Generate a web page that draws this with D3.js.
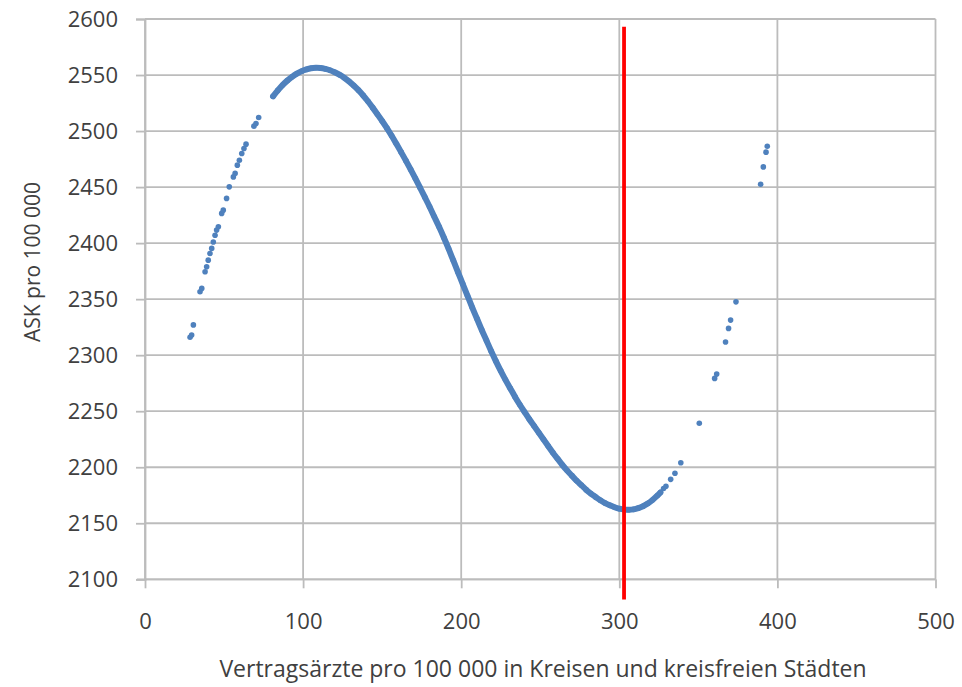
<!DOCTYPE html>
<html>
<head>
<meta charset="utf-8">
<script src="https://cdn.jsdelivr.net/npm/d3@7"></script>
<style>
  html, body { margin: 0; padding: 0; background: #ffffff; }
  svg { display: block; }
  text { font-family: "Open Sans", "Noto Sans", sans-serif; fill: #404040; }
</style>
</head>
<body>
<svg id="chart" width="962" height="687"></svg>
<script>
// ---------------- DATA ----------------
const xTickValues = [0, 100, 200, 300, 400, 500];
const yTickValues = [2100, 2150, 2200, 2250, 2300, 2350, 2400, 2450, 2500, 2550, 2600];

const xTitle = "Vertragsärzte pro 100 000 in Kreisen und kreisfreien Städten";
const yTitle = "ASK pro 100 000";

// scattered points, low end
const leftX = [28.5, 29.5, 30.6, 34.8, 35.9, 38, 39, 40, 41.1, 42.2, 43.2, 44.3, 45.3, 46.4, 48.5, 49.5, 51.6, 53.3, 55.9, 57, 58.4, 59.7, 61.2, 62.6, 63.9, 68.9, 70.2, 71.9];
const leftY = [2316, 2318, 2327, 2356.6, 2359.6, 2374.4, 2378.9, 2384.8, 2390.8, 2395.3, 2401, 2407, 2411.6, 2414.5, 2426.5, 2429.4, 2439.9, 2450.2, 2459.1, 2462.2, 2469.6, 2474, 2480, 2484.5, 2488.3, 2504.4, 2506.8, 2512.1];

// dense band of points
const denseX = [81, 84, 87, 90, 93, 96, 99, 102, 105, 108, 111, 114, 117, 120, 123, 126, 129, 132, 135, 138, 141, 144, 147, 150, 153, 156, 159, 162, 165, 168, 171, 174, 177, 180, 183, 186, 189, 192, 195, 198, 201, 204, 207, 210, 213, 216, 219, 222, 225, 228, 231, 234, 237, 240, 243, 246, 249, 252, 255, 258, 261, 264, 267, 270, 273, 276, 279, 282, 285, 288, 291, 294, 297, 300, 303, 306, 309, 312, 315, 318, 321, 324, 326];
const denseY = [2531, 2536.3, 2541, 2545, 2548.4, 2551.2, 2553.4, 2555, 2556.1, 2556.5, 2556.3, 2555.5, 2554.3, 2552.5, 2550.3, 2547.6, 2544.4, 2540.7, 2536.5, 2531.8, 2526.6, 2520.9, 2515, 2509, 2502.6, 2495.8, 2488.6, 2481.2, 2473.6, 2465.8, 2457.7, 2449.4, 2441, 2432.5, 2423.5, 2414.5, 2405, 2395, 2384.5, 2374, 2363.5, 2353, 2342.5, 2332.5, 2322.5, 2313, 2303.5, 2294.5, 2286, 2278, 2270.5, 2263, 2256, 2249.5, 2243, 2237, 2231, 2225, 2219, 2213, 2207.5, 2202, 2197, 2192.5, 2188, 2184, 2180, 2176.5, 2173.5, 2170.5, 2168, 2166, 2164.3, 2163, 2162.2, 2162, 2162.4, 2163.5, 2165.2, 2167.6, 2170.8, 2174.6, 2177.5];

// scattered points, high end
const rightX = [328, 329.5, 332.5, 335.2, 338.9, 350.6, 360.3, 361.6, 367.2, 369.1, 370.4, 373.8, 389.4, 391.1, 392.8, 393.6];
const rightY = [2181, 2183, 2189.2, 2194.6, 2204, 2239.2, 2279.3, 2283.1, 2311.7, 2323.9, 2331.3, 2347.6, 2452.6, 2468, 2481.2, 2486.5];

// red marker line (minimum)
const markerX = 303;
const markerYRange = [2082, 2593];

// ---------------- CHART ----------------
const svg = d3.select("#chart");
const plot = { left: 145, right: 935.5, top: 19, bottom: 579.3 };

const x = d3.scaleLinear().domain([0, 500]).range([plot.left, plot.right]);
const y = d3.scaleLinear().domain([2100, 2600]).range([plot.bottom, plot.top]);

const gridColor = "#bcbcbc";

// grid
const grid = svg.append("g");
grid.selectAll("line.h").data(yTickValues).enter().append("line")
  .attr("x1", plot.left).attr("x2", plot.right)
  .attr("y1", d => y(d)).attr("y2", d => y(d))
  .attr("stroke", gridColor).attr("stroke-width", 1.8);
grid.selectAll("line.v").data(xTickValues).enter().append("line")
  .attr("x1", d => x(d)).attr("x2", d => x(d))
  .attr("y1", plot.top).attr("y2", plot.bottom)
  .attr("stroke", gridColor).attr("stroke-width", 1.8);

// axes
const yAxis = svg.append("g").attr("transform", `translate(${plot.left},0)`)
  .call(d3.axisLeft(y).tickValues(yTickValues).tickSize(9).tickPadding(18).tickFormat(d3.format("d")));
const xAxis = svg.append("g").attr("transform", `translate(0,${plot.bottom})`)
  .call(d3.axisBottom(x).tickValues(xTickValues).tickSize(9).tickPadding(25).tickFormat(d3.format("d")));
[yAxis, xAxis].forEach(a => {
  a.select(".domain").attr("stroke", gridColor).attr("stroke-width", 1.8);
  a.selectAll(".tick line").attr("stroke", gridColor).attr("stroke-width", 1.8);
  a.selectAll(".tick text").attr("font-size", 22).attr("fill", "#404040")
    .style("font-family", '"Open Sans", "Noto Sans", sans-serif');
});
xAxis.select(".domain").attr("d", `M${plot.left - 8},0H${plot.right}`);

// points
const allPts = []
  .concat(leftX.map((v, i) => ({ x: v, y: leftY[i] })))
  .concat(denseX.map((v, i) => ({ x: v, y: denseY[i] })))
  .concat(rightX.map((v, i) => ({ x: v, y: rightY[i] })));
const densePts = denseX.map((v, i) => ({ x: v, y: denseY[i] }));

const blue = "#4f81bd";
svg.append("path")
  .datum(densePts)
  .attr("fill", "none")
  .attr("stroke", blue)
  .attr("stroke-width", 6)
  .attr("stroke-linecap", "round")
  .attr("d", d3.line().x(d => x(d.x)).y(d => y(d.y)).curve(d3.curveCatmullRom));

svg.append("g").selectAll("circle").data(allPts).enter().append("circle")
  .attr("cx", d => x(d.x)).attr("cy", d => y(d.y)).attr("r", 2.8)
  .attr("fill", blue);

// red marker
svg.append("line")
  .attr("x1", x(markerX)).attr("x2", x(markerX))
  .attr("y1", y(markerYRange[1])).attr("y2", y(markerYRange[0]))
  .attr("stroke", "#ff0000").attr("stroke-width", 3.8);

// titles
svg.append("text")
  .attr("x", 543).attr("y", 677)
  .attr("text-anchor", "middle")
  .attr("font-size", 23)
  .text(xTitle);

svg.append("text")
  .attr("transform", "translate(40,262) rotate(-90)")
  .attr("text-anchor", "middle")
  .attr("font-size", 21)
  .text(yTitle);
</script>
</body>
</html>
